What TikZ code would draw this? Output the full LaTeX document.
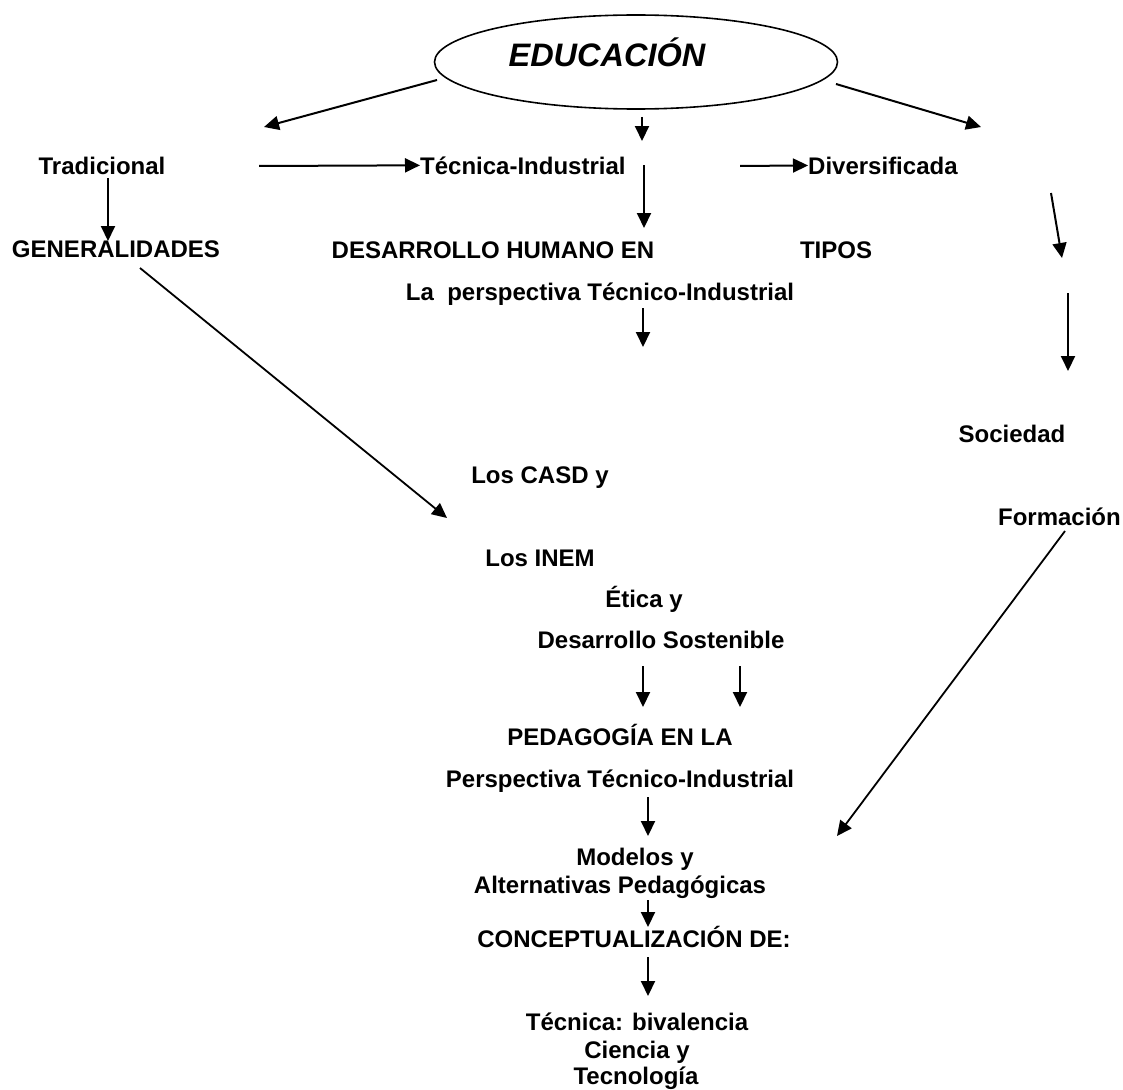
\documentclass[tikz,border=0pt]{standalone}
\usepackage{fontspec}
\setmainfont{Liberation Sans}
\usetikzlibrary{arrows.meta,shapes.geometric}
\begin{document}
\begin{tikzpicture}[x=1pt,y=-1pt,
  lbl/.style={font=\bfseries\fontsize{24}{27}\selectfont, inner sep=0pt, anchor=base},
  arr/.style={line width=2pt, -{Triangle[length=15pt,width=14pt]}},
  diag/.style={line width=1.8pt, -{Triangle[length=15pt,width=14pt]}},
]
\useasboundingbox (0,0) rectangle (1123,1089);
% ellipse
\node[draw, ellipse, line width=1.6pt, minimum width=403pt, minimum height=94pt, inner sep=0pt] (edu) at (636,62) {};
\node[font=\bfseries\itshape\fontsize{32.5}{36}\selectfont, inner sep=0pt, anchor=base] (edut) at (607,67) {EDUCACIÓN};
% labels
\node[lbl] (trad) at (102,174) {Tradicional};
\node[lbl, anchor=base west] (tecind) at (420,174) {Técnica-Industrial};
\node[lbl, anchor=base west] (div) at (808,174) {Diversificada};
\node[lbl] (gen) at (116,257) {GENERALIDADES};
\node[lbl] (dh) at (493,258) {DESARROLLO HUMANO EN};
\node[lbl] (tipos) at (836,258) {TIPOS};
\node[lbl] (lap) at (600,300) {La\ \ perspectiva Técnico-Industrial};
\node[lbl] (soc) at (1012,442) {Sociedad};
\node[lbl] (casd) at (540,483) {Los CASD y};
\node[lbl, anchor=base east] (form) at (1121,525) {Formación};
\node[lbl] (inem) at (540,566) {Los INEM};
\node[lbl] (etica) at (644,607) {Ética y};
\node[lbl] (ds) at (661,648) {Desarrollo Sostenible};
\node[lbl] (ped) at (620,745) {PEDAGOGÍA EN LA};
\node[lbl] (pti) at (620,787) {Perspectiva Técnico-Industrial};
\node[lbl] (mod) at (635,865) {Modelos y};
\node[lbl] (alt) at (620,893) {Alternativas Pedagógicas};
\node[lbl] (conc) at (634,947) {CONCEPTUALIZACIÓN DE:};
\node[lbl] (tec) at (637,1030) {Técnica: bivalencia};
\node[lbl] (cie) at (637,1058) {Ciencia y};
\node[lbl] (tecn) at (636,1084) {Tecnología};
% connector ends
\coordinate (a1s) at (437,80);   \coordinate (a1e) at (264,127);
\coordinate (a2s) at (642,117);  \coordinate (a2e) at (642,141);
\coordinate (a3s) at (836,84);   \coordinate (a3e) at (981,127);
\coordinate (a4s) at (259,166);
\coordinate (a5s) at (644,165);  \coordinate (a5e) at (644,228);
\coordinate (a6s) at (740,166);
\coordinate (a7s) at (108,178);  \coordinate (a7e) at (108,241);
\coordinate (a8s) at (140,268);  \coordinate (a8e) at (447,518);
\coordinate (a9s) at (643,308);  \coordinate (a9e) at (643,347);
\coordinate (a10s) at (1051,193); \coordinate (a10e) at (1062,258);
\coordinate (a11s) at (1068,293); \coordinate (a11e) at (1068,371);
\coordinate (a12s) at (1065,531); \coordinate (a12e) at (837,836);
\coordinate (a13s) at (643,666); \coordinate (a13e) at (643,707);
\coordinate (a14s) at (740,666); \coordinate (a14e) at (740,707);
\coordinate (a15s) at (648,797); \coordinate (a15e) at (648,836);
\coordinate (a16s) at (648,900); \coordinate (a16e) at (648,927);
\coordinate (a17s) at (648,957); \coordinate (a17e) at (648,996);
% connectors
\draw[arr] (a1s) -- (a1e);
\draw[arr] (a2s) -- (a2e);
\draw[arr] (a3s) -- (a3e);
\draw[arr] (a4s) -- (tecind.west);
\draw[arr] (a5s) -- (a5e);
\draw[arr] (a6s) -- (div.west);
\draw[arr] (a7s) -- (a7e);
\draw[diag] (a8s) -- (a8e);
\draw[arr] (a9s) -- (a9e);
\draw[arr] (a10s) -- (a10e);
\draw[arr] (a11s) -- (a11e);
\draw[diag] (a12s) -- (a12e);
\draw[arr] (a13s) -- (a13e);
\draw[arr] (a14s) -- (a14e);
\draw[arr] (a15s) -- (a15e);
\draw[arr] (a16s) -- (a16e);
\draw[arr] (a17s) -- (a17e);
\end{tikzpicture}
\end{document}
